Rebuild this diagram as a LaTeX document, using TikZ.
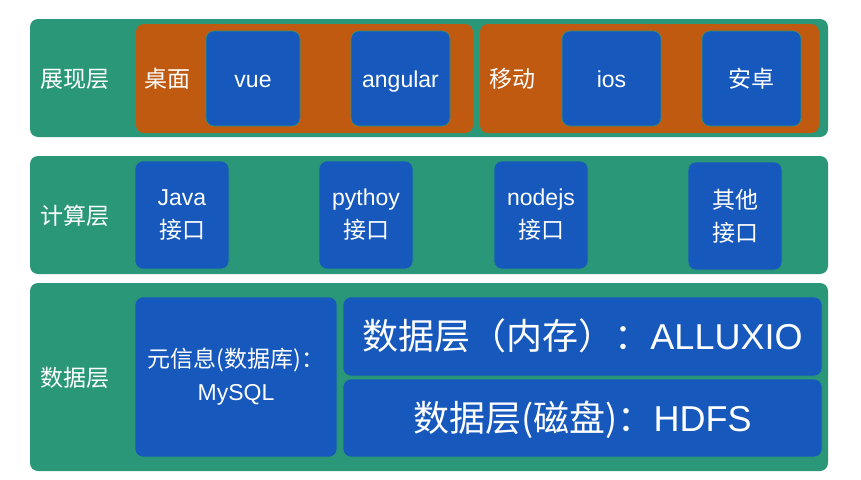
\documentclass[tikz,border=0pt]{standalone}
\usepackage{fontspec}
\setmainfont{Liberation Sans}
\newfontfamily\cjk{Noto Sans CJK SC}
\usepackage{tikz}
\usetikzlibrary{positioning}
\definecolor{layergreen}{HTML}{2A9878}
\definecolor{grouporange}{HTML}{C05A11}
\definecolor{boxblue}{HTML}{1658BB}

\begin{document}
\begin{tikzpicture} [x=1pt, y=-1pt,
    every node/.style={inner sep=0pt, text=white, align=center, font=\fontsize{23}{33}\selectfont},
    layer/.style={fill=layergreen, rounded corners=8pt, minimum width=798pt},
    group/.style={fill=grouporange, rounded corners=8pt, minimum height=109pt},
    box/.style={fill=boxblue, draw=layergreen, line width=0.6pt, rounded corners=8pt},
    oneline/.style={text height=17pt, text depth=0pt},
    big/.style={font=\fontsize{36}{40}\selectfont, text height=26pt, text depth=0pt}]
    \useasboundingbox (0,0) rectangle (861,479);

    % layers
    \node (show) [layer, minimum height=118pt] at (429,78) {};
    \node (calc) [layer, minimum height=118pt] at (429,215) {};
    \node (data) [layer, minimum height=188pt] at (429,377) {};
    \node (showlbl) [oneline] at (75,79) {\cjk 展现层};
    \node (calclbl) [oneline] at (75,216) {\cjk 计算层};
    \node (datalbl) [oneline] at (75,378) {\cjk 数据层};

    % presentation
    \node (desk) [group, minimum width=337pt] at (304.5,78.5) {};
    \node (mobile) [group, minimum width=339pt] at (649.5,78.5) {};
    \node (desklbl) [oneline] at (167,79) {\cjk 桌面};
    \node (mobilelbl) [oneline] at (512,79) {\cjk 移动};
    \node (vue) [box, oneline, minimum width=94pt, minimum height=95pt] at (253,78.5) {vue};
    \node (angular) [box, oneline, minimum width=99pt, minimum height=95pt] at (400.5,78.5) {angular};
    \node (ios) [box, oneline, minimum width=99pt, minimum height=95pt] at (611.5,78.5) {ios};
    \node (android) [box, oneline, minimum width=99pt, minimum height=95pt] at (751.5,78.5) {\cjk 安卓};

    % computing
    \node (java) [box, minimum width=94pt, minimum height=108pt] at (182,215) {Java\\{\cjk 接口}};
    \node (python) [box, minimum width=94pt, minimum height=108pt] at (366,215) {pythoy\\{\cjk 接口}};
    \node (nodejs) [box, minimum width=94pt, minimum height=108pt] at (541,215) {nodejs\\{\cjk 接口}};
    \node (other) [box, minimum width=94pt, minimum height=108pt] at (735,216) {{\cjk 其他}\\{\cjk 接口}};

    % data
    \node (meta) [box, minimum width=202pt, minimum height=160pt] at (236,377) {{\cjk 元信息(数据库)：}\\MySQL};
    \node (mem) [box, big, minimum width=479pt, minimum height=79pt] at (582.5,336.5) {{\cjk 数据层（内存）：}ALLUXIO};
    \node (disk) [box, big, minimum width=479pt, minimum height=78pt] at (582.5,418) {{\cjk 数据层(磁盘)：}HDFS};
  \end{tikzpicture}
\end{document}
